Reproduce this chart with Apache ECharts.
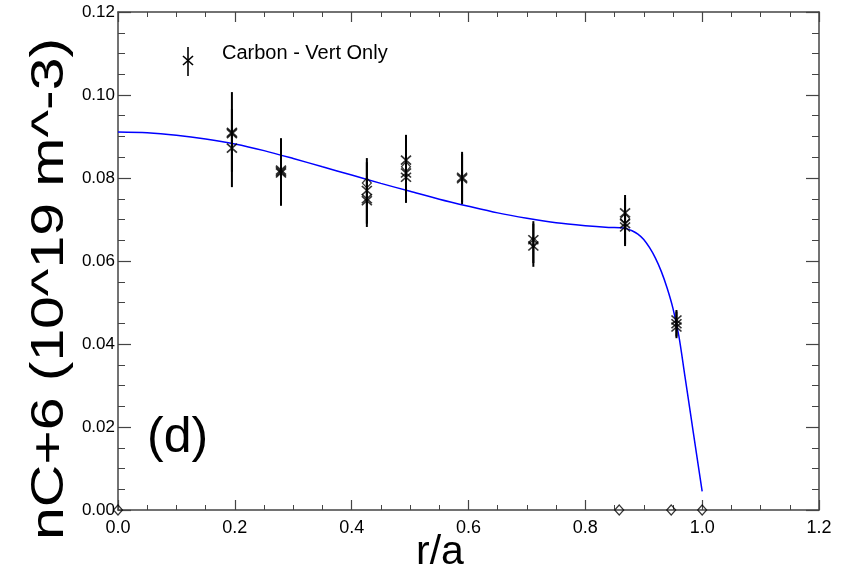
<!DOCTYPE html>
<html>
<head>
<meta charset="utf-8">
<script src="https://cdn.jsdelivr.net/npm/echarts@6/dist/echarts.min.js"></script>
<style>html,body{margin:0;padding:0;background:#fff;}#c{width:845px;height:577px;}</style>
</head>
<body>
<div id="c"></div>
<script>
// fitted profile (blue line)
const fitR = [0,0.05,0.1,0.15,0.2,0.25,0.3,0.35,0.4,0.45,0.5,0.55,0.6,0.65,0.7,0.75,0.8,0.84,0.86,0.87,0.88,0.89,0.9,0.91,0.92,0.93,0.94,0.95,0.96,0.97,0.98,0.99,1.0];
const fitV = [0.0911,0.0909,0.0903,0.0894,0.0882,0.0866,0.0847,0.0827,0.0807,0.0787,0.0768,0.0749,0.0732,0.0716,0.0703,0.0692,0.0685,0.0681,0.0680,0.0678,0.0673,0.0665,0.0652,0.0632,0.0607,0.0575,0.0535,0.0486,0.0420,0.0327,0.0233,0.0138,0.0045];
// measured points (x markers)
const ptR = [0.195,0.195,0.195,0.279,0.279,0.279,0.426,0.426,0.426,0.493,0.493,0.493,0.589,0.589,0.711,0.711,0.868,0.868,0.868,0.956,0.956,0.956];
const ptV = [0.0910,0.0907,0.0872,0.0819,0.0812,0.0815,0.0770,0.0750,0.0745,0.0843,0.0812,0.0802,0.0802,0.0798,0.0651,0.0636,0.0716,0.0690,0.0682,0.0458,0.0449,0.0441];
// diamond markers
const dmR = [0.426,0.493,0.711,0.868,0.0,0.858,0.947,1.0];
const dmV = [0.0788,0.0827,0.0645,0.0702,0,0,0,0];
// error bars
const ebR  = [0.195,0.195,0.279,0.279,0.426,0.426,0.493,0.493,0.589,0.589,0.711,0.711,0.868,0.868,0.956,0.956];
const ebLo = [0.0815,0.0778,0.0733,0.0740,0.0682,0.0690,0.0740,0.0745,0.0737,0.0742,0.0586,0.0595,0.0636,0.0640,0.0414,0.0418];
const ebHi = [0.1007,0.0966,0.0896,0.0888,0.0848,0.0838,0.0904,0.0890,0.0863,0.0858,0.0696,0.0690,0.0759,0.0752,0.0482,0.0478];
const xTicks = [0,0.2,0.4,0.6,0.8,1.0,1.2];
const yTicks = [0,0.02,0.04,0.06,0.08,0.10,0.12];

const chart = echarts.init(document.getElementById('c'), null, {renderer:'canvas'});
const axisCol = '#444';
const F = 'Liberation Sans, Arial, Helvetica, sans-serif';
function xAx(pos, show){
  return {type:'value', position:pos, min:0, max:1.2, interval:0.2,
    axisLine:{show:true, onZero:false, lineStyle:{color:axisCol, width:1.5}},
    axisTick:{show:true, inside:true, length:10, lineStyle:{color:axisCol, width:1.2}},
    minorTick:{show:true, splitNumber:4, length:5, lineStyle:{color:axisCol, width:1}},
    splitLine:{show:false},
    axisLabel:{show:show, margin:9, color:'#000', fontFamily:F, fontSize:18,
      formatter:v=>Number(v).toFixed(1)}};
}
function yAx(pos, show){
  return {type:'value', position:pos, min:0, max:0.12, interval:0.02,
    axisLine:{show:true, onZero:false, lineStyle:{color:axisCol, width:1.5}},
    axisTick:{show:true, inside:true, length:13, lineStyle:{color:axisCol, width:1.2}},
    minorTick:{show:true, splitNumber:4, length:7, lineStyle:{color:axisCol, width:1}},
    splitLine:{show:false},
    axisLabel:{show:show, margin:3, color:'#000', fontFamily:F, fontSize:17,
      formatter:v=>Number(v).toFixed(2)}};
}
const xPath = 'path://M0,0L10,10M10,0L0,10';
chart.setOption({
  animation:false,
  backgroundColor:'#fff',
  grid:{left:118, right:26, top:12, bottom:67, containLabel:false},
  xAxis:[xAx('bottom', true), xAx('top', false)],
  yAxis:[yAx('left', true), yAx('right', false)],
  series:[
    {type:'line', name:'fit', data:fitR.map((r,i)=>[r,fitV[i]]), showSymbol:false, symbol:'none',
      smooth:0.3, lineStyle:{color:'#0000ff', width:1.5}, z:2},
    {type:'custom', name:'err', data:ebR.map((r,i)=>[r,ebLo[i],ebHi[i]]),
      renderItem:function(params, api){
        const p1 = api.coord([api.value(0), api.value(1)]);
        const p2 = api.coord([api.value(0), api.value(2)]);
        return {type:'line', shape:{x1:p1[0], y1:p1[1], x2:p2[0], y2:p2[1]},
          style:{stroke:'#000', lineWidth:2}};
      }, z:3},
    {type:'scatter', name:'Carbon - Vert Only', data:ptR.map((r,i)=>[r,ptV[i]]), symbol:xPath, symbolSize:[10,9],
      itemStyle:{color:'none', borderColor:'#000', borderWidth:1.6}, z:4},
    {type:'scatter', name:'diamonds', data:dmR.map((r,i)=>[r,dmV[i]]), symbol:'diamond', symbolSize:[9,10],
      itemStyle:{color:'none', borderColor:'#000', borderWidth:1.2}, z:5}
  ],
  graphic:[
    {type:'line', shape:{x1:188, y1:47, x2:188, y2:76}, style:{stroke:'#000', lineWidth:1.6}},
    {type:'line', shape:{x1:183, y1:56, x2:193, y2:65}, style:{stroke:'#000', lineWidth:1.6}},
    {type:'line', shape:{x1:193, y1:56, x2:183, y2:65}, style:{stroke:'#000', lineWidth:1.6}},
    {type:'text', left:222, top:43, style:{text:'Carbon - Vert Only', font:'20px '+F, fill:'#000'}},
    {type:'text', left:147, top:413, style:{text:'(d)', font:'50px '+F, fill:'#000'}},
    {type:'text', x:440, y:553, style:{text:'r/a', font:'41px '+F, fill:'#000', align:'center', verticalAlign:'middle'}},
    {type:'text', x:50, y:289, rotation:Math.PI/2, scaleX:1.28, style:{text:'nC+6 (10^19 m^-3)', font:'46px '+F, fill:'#000', align:'center', verticalAlign:'middle'}}
  ]
});
</script>
</body>
</html>
